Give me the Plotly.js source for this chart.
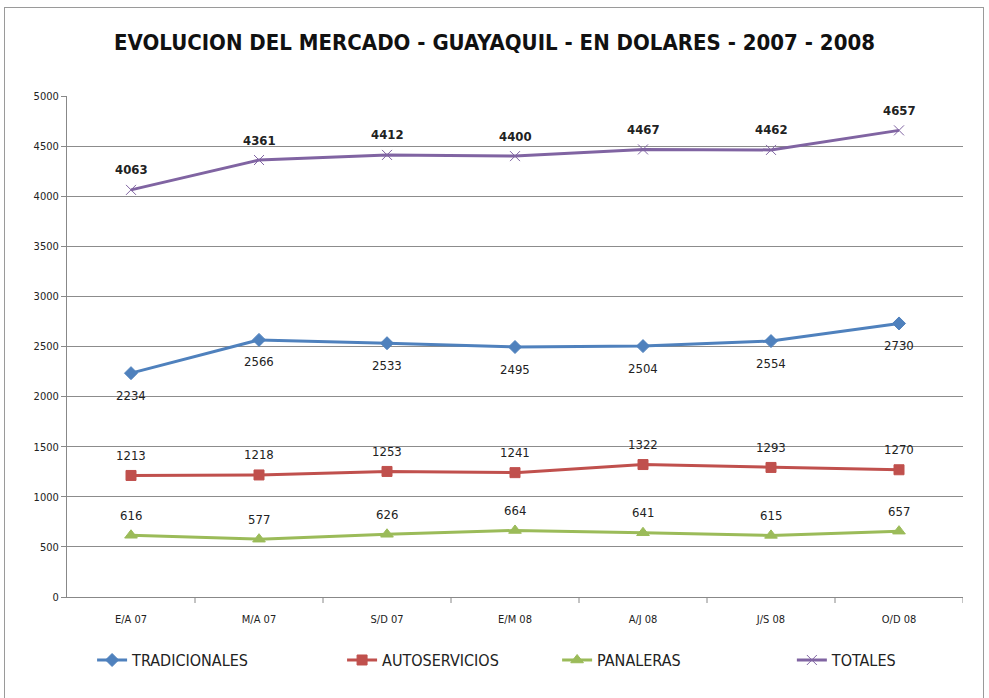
<!DOCTYPE html>
<html>
<head>
<meta charset="utf-8">
<script src="https://cdn.plot.ly/plotly-3.0.1.min.js"></script>
<style>
html,body{margin:0;padding:0;background:#fff;}
#frame{position:absolute;left:4px;top:7px;width:980px;height:700px;border:1px solid #9a9a9a;box-sizing:border-box;}
#chart{position:absolute;left:0;top:0;width:989px;height:698px;}
</style>
</head>
<body>
<div id="frame"></div>
<div id="chart"></div>
<script>
const categories = ["E/A 07","M/A 07","S/D 07","E/M 08","A/J 08","J/S 08","O/D 08"];
const tradicionales = [2234,2566,2533,2495,2504,2554,2730];
const autoservicios = [1213,1218,1253,1241,1322,1293,1270];
const panaleras = [616,577,626,664,641,615,657];
const totales = [4063,4361,4412,4400,4467,4462,4657];
const yTicks = [0,500,1000,1500,2000,2500,3000,3500,4000,4500,5000];

const FONT = "DejaVu Sans Condensed, Open Sans, Arial, sans-serif";
const LBL = {family: FONT, size: 13, color: "#222"};

function series(name, y, color, symbol, size, leg) {
  return {
    x: categories, y: y, name: name, type: "scatter",
    mode: "lines+markers", legend: leg,
    line: {color: color, width: 3},
    marker: {color: color, symbol: symbol, size: size, line: {color: color, width: 1}}
  };
}

function labels(y, shift, bold) {
  return y.map((v, i) => ({
    x: categories[i], y: v, xref: "x", yref: "y",
    text: bold ? "<b>" + v + "</b>" : String(v),
    showarrow: false, yshift: shift, xanchor: "center", yanchor: "middle",
    font: LBL
  }));
}

const data = [
  series("TRADICIONALES", tradicionales, "#4F81BD", "diamond", 10, "legend"),
  series("AUTOSERVICIOS", autoservicios, "#C0504D", "square", 10, "legend2"),
  series("PANALERAS", panaleras, "#9BBB59", "triangle-up", 11, "legend3"),
  series("TOTALES", totales, "#8064A2", "x-thin-open", 10, "legend4")
];

function leg(x) {
  return {orientation: "h", x: x, xanchor: "left", y: -0.092, yanchor: "top",
    font: {family: FONT, size: 16, color: "#222"}, bgcolor: "rgba(0,0,0,0)"};
}

const layout = {
  width: 989, height: 698,
  paper_bgcolor: "rgba(0,0,0,0)", plot_bgcolor: "rgba(0,0,0,0)",
  margin: {l: 67, r: 26, t: 96, b: 101},
  title: {text: "<b>EVOLUCION DEL MERCADO - GUAYAQUIL - EN DOLARES - 2007 - 2008</b>",
    font: {family: FONT, size: 22, color: "#111"}, x: 0.5, xanchor: "center", y: 0.94, yanchor: "middle"},
  xaxis: {
    type: "category", range: [-0.5, 6.5], showgrid: false,
    showline: true, linecolor: "#888", linewidth: 1,
    ticks: "", tickfont: {family: FONT, size: 11, color: "#222"},
    ticklabelstandoff: 12, zeroline: false
  },
  yaxis: {
    range: [0, 5000], tickvals: yTicks, ticktext: yTicks.map(String),
    showgrid: true, gridcolor: "#8c8c8c", gridwidth: 1,
    showline: true, linecolor: "#888", linewidth: 1,
    ticks: "outside", ticklen: 5, tickcolor: "#888",
    tickfont: {family: FONT, size: 11, color: "#222"}, zeroline: false
  },
  shapes: [1,2,3,4,5,6,7].map(i => ({
    type: "line", xref: "x", yref: "paper", x0: i - 0.5, x1: i - 0.5, y0: 0, y1: -0.012,
    line: {color: "#888", width: 1}
  })),
  annotations: [].concat(
    labels(tradicionales, -22, false),
    labels(autoservicios, 20, false),
    labels(panaleras, 20, false),
    labels(totales, 20, true)
  ),
  legend: leg(0.028),
  legend2: leg(0.307),
  legend3: leg(0.547),
  legend4: leg(0.809),
  showlegend: true
};

Plotly.newPlot("chart", data, layout, {displayModeBar: false, staticPlot: true});
</script>
</body>
</html>
